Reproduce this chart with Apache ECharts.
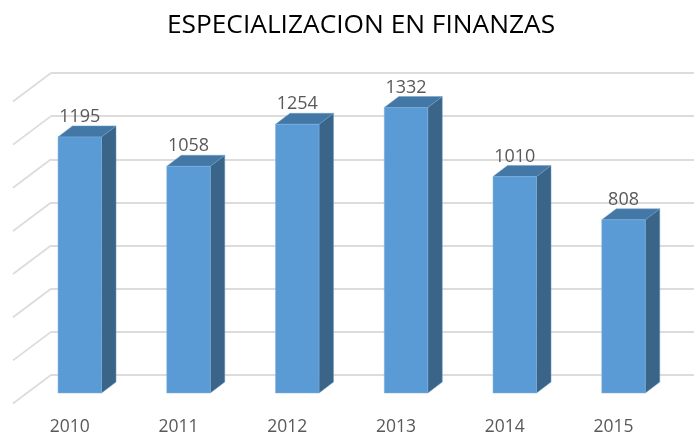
<!DOCTYPE html>
<html><head><meta charset="utf-8">
<style>html,body{margin:0;padding:0;background:#fff}#c{width:694px;height:436px}</style>
<script src="https://cdn.jsdelivr.net/npm/echarts@6/dist/echarts.min.js"></script>
</head><body><div id="c"></div>
<script>
const titleText = "ESPECIALIZACION EN FINANZAS";
const categories = ["2010","2011","2012","2013","2014","2015"];
const values = [1195,1058,1254,1332,1010,808];
const wallTicks = [0,200,400,600,800,1000,1200,1400];

const chart = echarts.init(document.getElementById('c'), null, {renderer:'canvas'});
const DX = 14.5, DY = 11, BAR = 43.5;
const FLOOR_DX = 38, FLOOR_DY = 28.5;

function renderBar(params, api){
  const i = api.value(0), v = api.value(1);
  const top = api.coord([i, v]), base = api.coord([i, 0]);
  const xl = top[0]-BAR/2, xr = top[0]+BAR/2, yt = top[1], yb = base[1];
  return {type:'group', children:[
    {type:'polygon', shape:{points:[[xr,yt],[xr+DX,yt-DY],[xr+DX,yb-DY],[xr,yb]]},
     style:{fill:'#3A6488', stroke:'#6F9CC4', lineWidth:0.5}},
    {type:'polygon', shape:{points:[[xl,yt],[xl+DX,yt-DY],[xr+DX,yt-DY],[xr,yt]]},
     style:{fill:'#4277A6', stroke:'#6F9CC4', lineWidth:0.5}},
    {type:'rect', shape:{x:xl,y:yt,width:BAR,height:yb-yt},
     style:{fill:'#5B9BD5', stroke:'#7FB0DE', lineWidth:0.5}},
    {type:'text', x:top[0], y:yt-20,
     style:{text:String(v), fill:'#595959', font:'18px "Open Sans"', align:'center', verticalAlign:'middle'}}
  ]};
}
function renderDiag(params, api){
  const p = api.coord([0, api.value(0)]);
  return {type:'line', shape:{x1:p[0],y1:p[1],x2:p[0]-FLOOR_DX,y2:p[1]+FLOOR_DY},
    style:{stroke:'#DCDCDC', lineWidth:1.8}};
}

chart.setOption({
  animation:false,
  backgroundColor:'#fff',
  title:{text:titleText,left:356,top:8,textAlign:'center',
    textStyle:{fontFamily:'Open Sans',fontWeight:'normal',fontSize:26.3,color:'#000'}},
  grid:[
    {left:51,right:0,top:73,height:302},
    {left:25.4,width:652.5,top:93,height:302}
  ],
  xAxis:[
    {gridIndex:0,type:'value',min:0,max:1,show:false},
    {gridIndex:1,type:'category',data:categories,
      axisLine:{show:false},axisTick:{show:false},
      axisLabel:{color:'#595959',fontFamily:'Open Sans',fontSize:17.5,margin:25,padding:[0,20,0,0]}}
  ],
  yAxis:[
    {gridIndex:0,type:'value',min:0,max:1400,interval:200,
      axisLine:{show:false},axisTick:{show:false},axisLabel:{show:false},
      splitLine:{show:true,lineStyle:{color:'#DCDCDC',width:2}}},
    {gridIndex:1,type:'value',min:0,max:1400,interval:200,show:false,splitLine:{show:false}}
  ],
  series:[
    {type:'custom',xAxisIndex:0,yAxisIndex:0,data:wallTicks.map(v=>[v]),
      encode:{y:0},renderItem:renderDiag,silent:true,clip:false,z:1},
    {type:'custom',xAxisIndex:1,yAxisIndex:1,data:values.map((v,i)=>[i,v]),
      encode:{x:0,y:1},renderItem:renderBar,clip:false,z:3}
  ]
});
</script></body></html>
